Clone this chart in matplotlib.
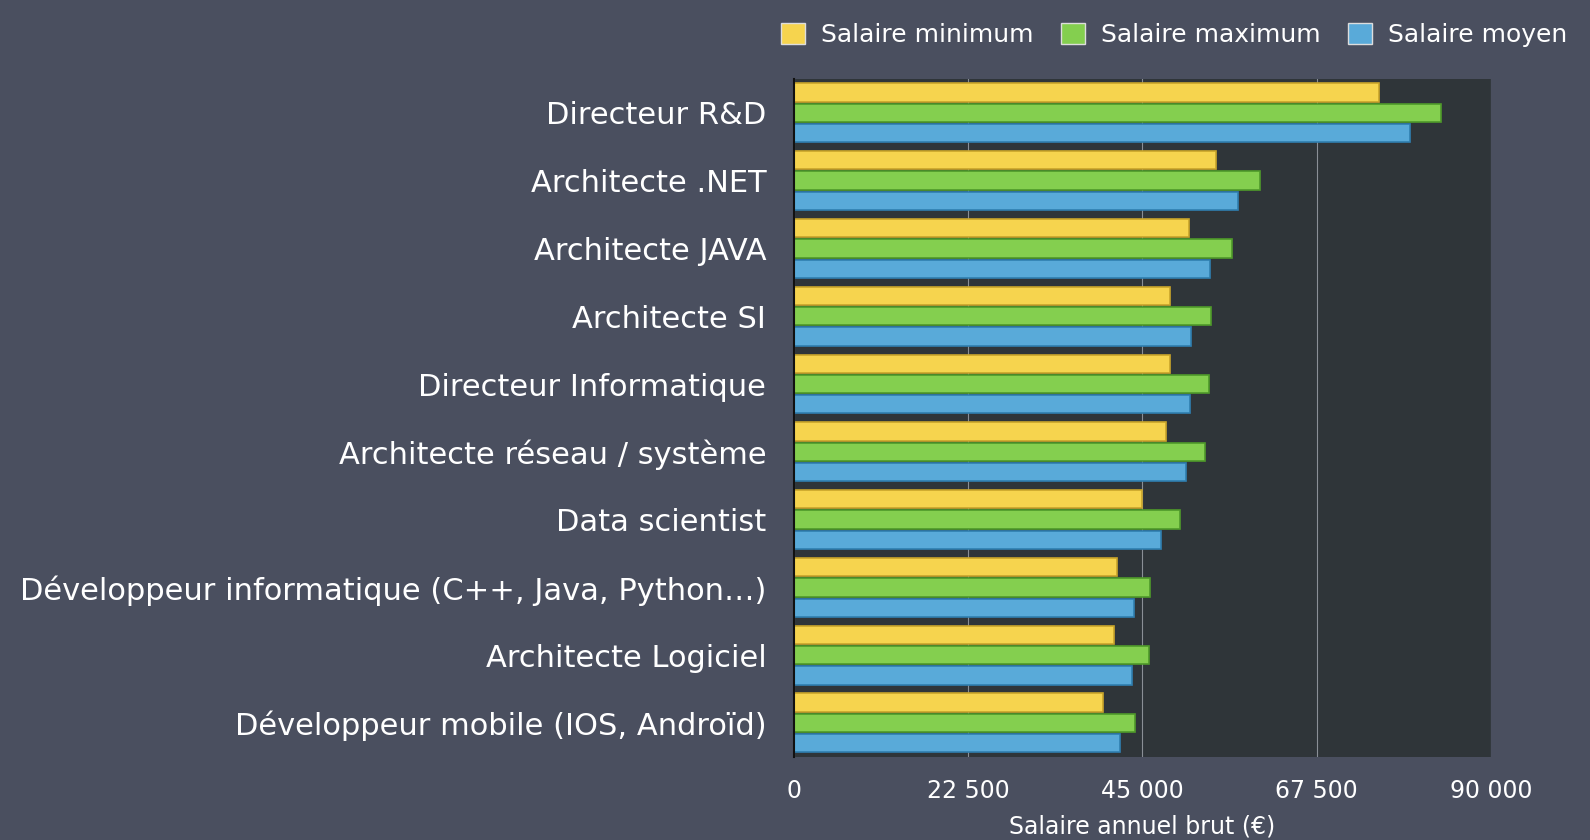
import numpy as np
import matplotlib
matplotlib.use('Agg')
import matplotlib.pyplot as plt
from matplotlib.ticker import FuncFormatter
from matplotlib.patches import Patch

jobs = ['Directeur R&D', 'Architecte .NET', 'Architecte JAVA', 'Architecte SI',
        'Directeur Informatique', 'Architecte réseau / système', 'Data scientist',
        'Développeur informatique (C++, Java, Python…)', 'Architecte Logiciel',
        'Développeur mobile (IOS, Androïd)']
sal_min = [75500, 54500, 51000, 48600, 48500, 48000, 45000, 41700, 41300, 39900]
sal_max = [83600, 60200, 56500, 53800, 53600, 53100, 49800, 46000, 45900, 44000]
sal_moy = [79500, 57300, 53700, 51200, 51100, 50600, 47400, 43900, 43700, 42100]
series_names = ['Salaire minimum', 'Salaire maximum', 'Salaire moyen']
ticks = [0, 22500, 45000, 67500, 90000]

colors = ['#f6d44e', '#84cf4f', '#59aad9']
edges = ['#c9a52a', '#4f9a2a', '#2f7fb0']
bg = '#4a4f5f'
plot_bg = '#2f3539'

plt.rcParams['font.family'] = ['DejaVu Sans']

fig = plt.figure(figsize=(15.9, 8.4), dpi=100, facecolor=bg)
ax = fig.add_axes([0.4994, 0.099, 0.4383, 0.807])
ax.set_facecolor(plot_bg)

y = np.arange(len(jobs))
h = 0.27
for k, (vals, c, e) in enumerate(zip([sal_min, sal_max, sal_moy], colors, edges)):
    ax.barh(y + (k - 1) * 0.3, vals, height=h, color=c, edgecolor=e, linewidth=1.2, zorder=3)

ax.set_ylim(len(jobs) - 0.5, -0.5)
ax.set_xlim(0, 90000)
ax.set_xticks(ticks)
ax.xaxis.set_major_formatter(FuncFormatter(lambda v, p: f'{int(v):,}'.replace(',', ' ')))
ax.grid(axis='x', color='#8a8f96', linewidth=0.8, zorder=1)
ax.set_yticks(y)
ax.set_yticklabels(jobs, fontsize=22, color='white')
ax.tick_params(axis='y', length=0, pad=20)
ax.tick_params(axis='x', length=0, pad=16, labelsize=17, labelcolor='white')
for s in ['top', 'right', 'bottom']:
    ax.spines[s].set_visible(False)
ax.spines['left'].set_color('#111111')
ax.spines['left'].set_linewidth(1.5)
ax.spines['left'].set_zorder(4)
ax.set_xlabel('Salaire annuel brut (€)', fontsize=17, color='white', labelpad=8)

handles = [Patch(facecolor=c, edgecolor='#dddddd', linewidth=1) for c in colors]
fig.legend(handles, series_names, loc='upper right', bbox_to_anchor=(1.0, 1.0), ncol=3,
           frameon=False, fontsize=18, labelcolor='white', handlelength=0.95, handleheight=0.95,
           handletextpad=0.65, columnspacing=1.1, borderaxespad=0.5)

fig.savefig('out.png', facecolor=bg)
